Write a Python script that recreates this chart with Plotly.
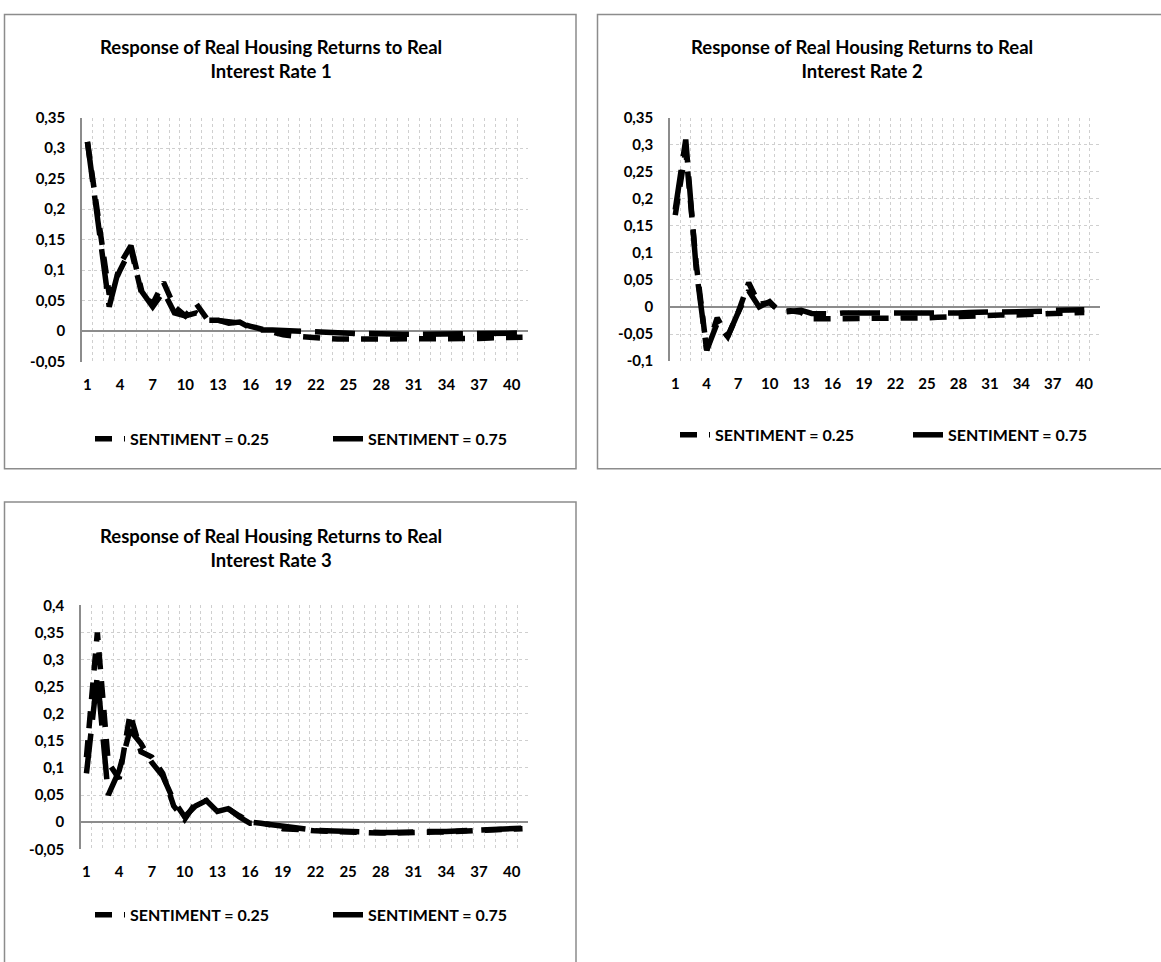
import plotly.graph_objects as go

periods = list(range(1, 42))
tick_vals = list(range(1, 42, 3))
tick_text = [str(v) for v in tick_vals]

labels = ["SENTIMENT = 0.25", "SENTIMENT = 0.75"]
titles = [
    "Response of Real Housing Returns to Real<br>Interest Rate 1",
    "Response of Real Housing Returns to Real<br>Interest Rate 2",
    "Response of Real Housing Returns to Real<br>Interest Rate 3",
]

# Panel 1
p1_s025 = [0.31, 0.19, 0.06, 0.10, 0.135, 0.06, 0.045, 0.08, 0.04, 0.025, 0.045, 0.02, 0.018, 0.015,
           0.013, 0.008, 0.003, -0.003, -0.006, -0.008, -0.010, -0.011, -0.012, -0.013, -0.013, -0.014,
           -0.014, -0.014, -0.014, -0.014, -0.014, -0.014, -0.013, -0.013, -0.013, -0.012, -0.012,
           -0.011, -0.011, -0.010, -0.010]
p1_s075 = [0.31, 0.17, 0.04, 0.11, 0.14, 0.065, 0.04, 0.065, 0.03, 0.025, 0.03, 0.018, 0.018, 0.013,
           0.015, 0.005, 0.002, 0.002, 0.001, 0.001, 0.000, -0.001, -0.002, -0.003, -0.003, -0.004,
           -0.004, -0.005, -0.005, -0.005, -0.005, -0.005, -0.005, -0.005, -0.005, -0.005, -0.004,
           -0.004, -0.004, -0.003, -0.003]

# Panel 2
p2_s025 = [0.17, 0.29, 0.08, -0.08, -0.02, -0.055, -0.01, 0.045, 0.005, 0.008, -0.008, -0.007, -0.01,
           -0.022, -0.022, -0.022, -0.021, -0.021, -0.022, -0.022, -0.022, -0.022, -0.021, -0.021,
           -0.020, -0.019, -0.018, -0.018, -0.017, -0.016, -0.016, -0.015, -0.015, -0.014, -0.014,
           -0.013, -0.012, -0.011, -0.011, -0.010]
p2_s075 = [0.18, 0.31, 0.07, -0.08, -0.03, -0.055, -0.01, 0.03, 0.0, 0.01, -0.01, -0.008, -0.006,
           -0.012, -0.013, -0.013, -0.011, -0.011, -0.012, -0.013, -0.013, -0.013, -0.013, -0.012,
           -0.012, -0.012, -0.011, -0.011, -0.010, -0.010, -0.009, -0.009, -0.009, -0.008, -0.008,
           -0.008, -0.006, -0.005, -0.005, -0.005]

# Panel 3
p3_s025 = [0.12, 0.35, 0.11, 0.08, 0.20, 0.13, 0.12, 0.09, 0.03, 0.005, 0.035, 0.04, 0.02, 0.025,
           0.012, 0.0, -0.002, -0.005, -0.012, -0.012, -0.014, -0.016, -0.017, -0.018, -0.019, -0.019,
           -0.019, -0.020, -0.020, -0.019, -0.019, -0.019, -0.018, -0.018, -0.017, -0.017, -0.016,
           -0.015, -0.014, -0.013, -0.012]
p3_s075 = [0.09, 0.27, 0.05, 0.095, 0.17, 0.145, 0.11, 0.085, 0.04, 0.01, 0.03, 0.04, 0.02, 0.025,
           0.01, -0.002, -0.002, -0.005, -0.008, -0.010, -0.013, -0.015, -0.016, -0.017, -0.018, -0.018,
           -0.018, -0.019, -0.019, -0.018, -0.018, -0.018, -0.017, -0.017, -0.016, -0.016, -0.015,
           -0.014, -0.013, -0.012, -0.011]

y_ticks = [
    [-0.05, 0.0, 0.05, 0.1, 0.15, 0.2, 0.25, 0.3, 0.35],
    [-0.1, -0.05, 0.0, 0.05, 0.1, 0.15, 0.2, 0.25, 0.3, 0.35],
    [-0.05, 0.0, 0.05, 0.1, 0.15, 0.2, 0.25, 0.3, 0.35, 0.4],
]
y_ticktext = [["0" if v == 0 else f"{v:g}".replace(".", ",") for v in t] for t in y_ticks]

panels = [(p1_s025, p1_s075), (p2_s025, p2_s075), (p3_s025, p3_s075)]

W, H = 1161, 962
def px_x(v):
    return v / W
def px_y(v):
    return 1 - v / H

# plot areas in pixels: (left, right, top, bottom)
areas = [(82, 528, 109.6, 358.4), (670, 1100, 110, 357.7), (81, 528, 606.7, 855.3)]
boxes = [(4.5, 576, 4.5, 467.5), (597.5, 1175, 4.5, 467.5), (4.5, 576, 501.5, 975)]
title_cx = [271, 862, 271]
title_cy = [50, 50, 548]
legend_pos = [(90, 437, 193), (675, 433, 188), (90, 922, 193)]

FONT = "Lato"
dashes = ["17px,12px", "40px,14px"]

fig = go.Figure()
for i, (s25, s75) in enumerate(panels):
    xa = "x" if i == 0 else f"x{i+1}"
    ya = "y" if i == 0 else f"y{i+1}"
    lg = "legend" if i == 0 else f"legend{i+1}"
    for j, (vals, name) in enumerate(zip((s25, s75), labels)):
        fig.add_trace(go.Scatter(
            x=periods[:len(vals)], y=vals, name=name, mode="lines",
            line=dict(color="black", width=5.5, dash=dashes[j]),
            xaxis=xa, yaxis=ya, legend=lg, hoverinfo="skip",
        ))

layout = dict(
    width=W, height=H, margin=dict(l=0, r=0, t=0, b=0),
    paper_bgcolor="white", plot_bgcolor="white", showlegend=True,
    font=dict(family=FONT, color="#000000"),
)
for i in range(3):
    l, r, t, b = areas[i]
    sfx = "" if i == 0 else str(i + 1)
    yt = y_ticks[i]
    layout[f"xaxis{sfx}"] = dict(
        domain=[px_x(l), px_x(r)], range=[0.5, 41.5], anchor=f"y{sfx}",
        tickmode="array", tickvals=tick_vals, ticktext=tick_text,
        showgrid=False, zeroline=False, showline=False, ticks="",
        ticklabelstandoff=12,
        tickfont=dict(family=FONT, size=15, weight="bold", color="#000"),
        minor=dict(tick0=0.5, dtick=1, showgrid=True, gridcolor="#cfcfcf",
                   griddash="dot", gridwidth=1, ticks=""),
        fixedrange=True,
    )
    layout[f"yaxis{sfx}"] = dict(
        domain=[px_y(b), px_y(t)], range=[yt[0], yt[-1]], anchor=f"x{sfx}",
        tickmode="array", tickvals=yt, ticktext=y_ticktext[i],
        showgrid=True, gridcolor="#cfcfcf", griddash="dot", gridwidth=1,
        zeroline=True, zerolinecolor="#8c8c8c", zerolinewidth=1.5,
        showline=True, linecolor="#8c8c8c", linewidth=1.5, ticks="",
        ticklabelstandoff=12,
        tickfont=dict(family=FONT, size=15, weight="bold", color="#000"),
        fixedrange=True,
    )
    lx, ly, ew = legend_pos[i]
    layout["legend" if i == 0 else f"legend{i+1}"] = dict(
        x=px_x(lx), y=px_y(ly), xanchor="left", yanchor="middle",
        orientation="h", entrywidth=ew, entrywidthmode="pixels",
        font=dict(family=FONT, size=16, weight="bold", color="#000"),
        bgcolor="rgba(0,0,0,0)", traceorder="normal",
    )

fig.update_layout(**layout)

for i in range(3):
    x0, x1, y0, y1 = boxes[i]
    fig.add_shape(type="rect", xref="paper", yref="paper",
                  x0=px_x(x0), x1=px_x(x1), y0=px_y(y1), y1=px_y(y0),
                  line=dict(color="#8c8c8c", width=1.5), fillcolor="rgba(0,0,0,0)", layer="below")
    fig.add_annotation(xref="paper", yref="paper", x=px_x(title_cx[i]), y=px_y(title_cy[i]),
                       xanchor="center", yanchor="middle", showarrow=False,
                       text=titles[i], align="center",
                       font=dict(family=FONT, size=18.5, weight="bold", color="#000"))

fig.write_html("out.html", config={"displayModeBar": False},
               post_script="document.body.style.margin='0';document.body.style.overflow='hidden';")
